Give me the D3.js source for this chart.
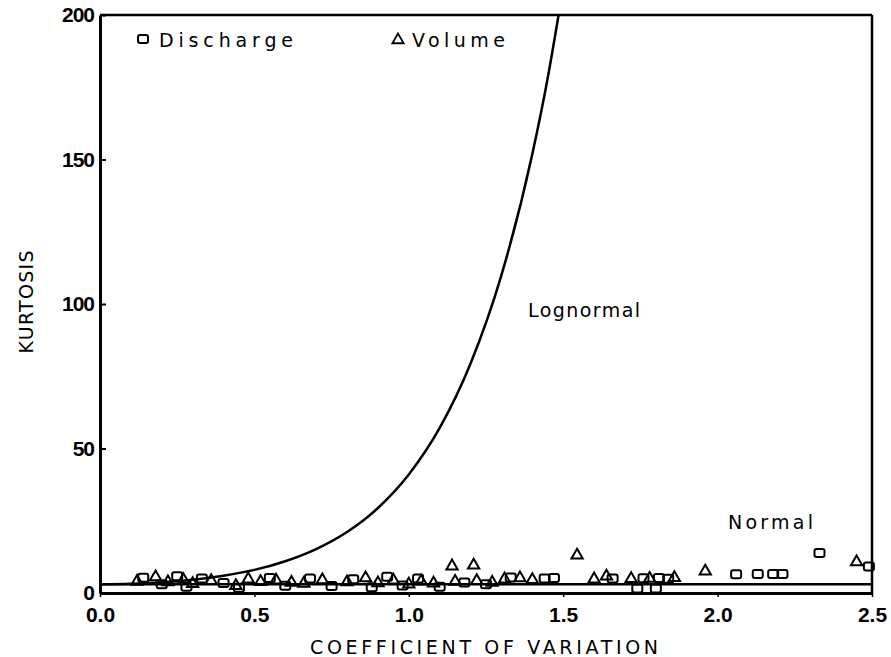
<!DOCTYPE html>
<html>
<head>
<meta charset="utf-8">
<script src="https://cdn.jsdelivr.net/npm/d3@7"></script>
<style>
  html, body { margin: 0; padding: 0; background: #fff; }
  svg { display: block; }
</style>
</head>
<body>
<svg id="chart" width="891" height="657"></svg>
<script>
// ---------------- data ----------------
const xTicks = [0.0, 0.5, 1.0, 1.5, 2.0, 2.5];
const xTickLabels = ["0.0", "0.5", "1.0", "1.5", "2.0", "2.5"];
const yTicks = [0, 50, 100, 150, 200];
const yTickLabels = ["0", "50", "100", "150", "200"];

// Lognormal theoretical curve [cv, kurtosis]
const lognormalCV = [0, 0.1, 0.2, 0.3, 0.4, 0.5, 0.6, 0.7, 0.8, 0.9, 1.0, 1.1, 1.2, 1.3, 1.4, 1.45, 1.485];
const lognormalK  = [3.0, 3.2, 3.7, 4.6, 6.0, 8.0, 11.0, 15.2, 21.1, 29.4, 41.0, 57.1, 79.4, 110.0, 151.9, 178.3, 200];

// Normal distribution line (kurtosis = 3)
const normalCV = [0, 2.5];
const normalK = [3, 3];

// Volume (triangles)
const volumeCV = [0.12, 0.18, 0.22, 0.27, 0.30, 0.36, 0.44, 0.48, 0.52, 0.57, 0.62, 0.66, 0.72, 0.80, 0.86, 0.90, 0.95, 1.00, 1.04, 1.08, 1.14, 1.15, 1.21, 1.22, 1.27, 1.31, 1.36, 1.40, 1.545, 1.60, 1.64, 1.72, 1.78, 1.86, 1.96, 2.45];
const volumeK  = [4.0, 5.5, 3.8, 4.6, 3.2, 4.2, 2.5, 4.8, 3.9, 4.4, 3.6, 3.3, 4.5, 3.8, 5.2, 3.5, 4.4, 3.0, 4.1, 3.4, 9.3, 4.0, 9.6, 4.2, 3.6, 4.8, 5.2, 4.6, 13.1, 4.8, 5.8, 4.9, 5.0, 5.3, 7.5, 10.7];

// Discharge (squares)
const dischargeCV = [0.14, 0.20, 0.25, 0.28, 0.33, 0.40, 0.45, 0.55, 0.60, 0.68, 0.75, 0.82, 0.88, 0.93, 0.98, 1.03, 1.10, 1.18, 1.25, 1.33, 1.44, 1.47, 1.66, 1.74, 1.76, 1.80, 1.81, 1.84, 2.06, 2.13, 2.18, 2.21, 2.33, 2.49];
const dischargeK  = [5.3, 3.0, 5.8, 2.2, 5.0, 3.5, 1.8, 5.2, 2.5, 5.0, 2.4, 4.8, 2.0, 5.6, 2.6, 5.0, 2.2, 3.6, 3.0, 5.4, 5.0, 5.2, 5.0, 1.6, 5.1, 1.6, 5.2, 4.9, 6.5, 6.6, 6.6, 6.6, 13.8, 9.2];

// ---------------- chart ----------------
const svg = d3.select("#chart");
const x = d3.scaleLinear().domain([0, 2.5]).range([100, 872]);
const y = d3.scaleLinear().domain([0, 200]).range([593, 15]);

const labelFont = "'DejaVu Sans', sans-serif";
const tickFont = "'Liberation Sans', Arial, sans-serif";

// frame: top and right
svg.append("line").attr("x1", x(0)).attr("x2", x(2.5)).attr("y1", y(200)).attr("y2", y(200))
  .attr("stroke", "#000").attr("stroke-width", 2.5);
svg.append("line").attr("x1", x(2.5)).attr("x2", x(2.5)).attr("y1", y(200)).attr("y2", y(0))
  .attr("stroke", "#000").attr("stroke-width", 2.5);

// y axis
const yAxis = d3.axisLeft(y).tickValues(yTicks).tickFormat((d, i) => yTickLabels[i])
  .tickSizeInner(-6).tickSizeOuter(0).tickPadding(6);
const gy = svg.append("g").attr("transform", `translate(${x(0)},0)`).call(yAxis);
gy.select(".domain").attr("stroke-width", 3);
gy.selectAll(".tick line").attr("stroke-width", 2);
gy.selectAll(".tick text").attr("font-family", tickFont).attr("font-weight", "bold")
  .attr("font-size", 21).attr("letter-spacing", -1).attr("fill", "#000");

// x axis
const xAxis = d3.axisBottom(x).tickValues(xTicks).tickFormat((d, i) => xTickLabels[i])
  .tickSizeInner(4).tickSizeOuter(0).tickPadding(10);
const gx = svg.append("g").attr("transform", `translate(0,${y(0)})`).call(xAxis);
gx.select(".domain").attr("stroke-width", 3);
gx.selectAll(".tick line").attr("stroke-width", 1.5);
gx.selectAll(".tick text").attr("font-family", tickFont).attr("font-weight", "bold")
  .attr("font-size", 21).attr("fill", "#000");

// normal line
const line = d3.line().x(d => x(d[0])).y(d => y(d[1]));
svg.append("path").datum(normalCV.map((c, i) => [c, normalK[i]]))
  .attr("d", line).attr("fill", "none").attr("stroke", "#000").attr("stroke-width", 2.5);

// lognormal curve
svg.append("path").datum(lognormalCV.map((c, i) => [c, lognormalK[i]]))
  .attr("d", d3.line().curve(d3.curveMonotoneX).x(d => x(d[0])).y(d => y(d[1])))
  .attr("fill", "none").attr("stroke", "#000").attr("stroke-width", 2.5);

// markers
const tri = d3.symbol().type(d3.symbolTriangle).size(55);
svg.append("g").selectAll("path").data(volumeCV.map((c, i) => [c, volumeK[i]])).join("path")
  .attr("d", tri).attr("transform", d => `translate(${x(d[0])},${y(d[1])})`)
  .attr("fill", "none").attr("stroke", "#000").attr("stroke-width", 2);

svg.append("g").selectAll("rect").data(dischargeCV.map((c, i) => [c, dischargeK[i]])).join("rect")
  .attr("x", d => x(d[0]) - 5).attr("y", d => y(d[1]) - 4).attr("width", 10).attr("height", 8)
  .attr("rx", 2).attr("fill", "none").attr("stroke", "#000").attr("stroke-width", 2);

// legend
svg.append("rect").attr("x", 138).attr("y", 35).attr("width", 10).attr("height", 8).attr("rx", 2)
  .attr("fill", "none").attr("stroke", "#000").attr("stroke-width", 2);
svg.append("text").attr("x", 159).attr("y", 47).text("Discharge")
  .attr("font-family", labelFont).attr("font-size", 19).attr("textLength", 134).attr("lengthAdjust", "spacing");
svg.append("path").attr("d", tri).attr("transform", "translate(398,40)")
  .attr("fill", "none").attr("stroke", "#000").attr("stroke-width", 1.8);
svg.append("text").attr("x", 412).attr("y", 47).text("Volume")
  .attr("font-family", labelFont).attr("font-size", 19).attr("textLength", 93).attr("lengthAdjust", "spacing");

// curve labels
svg.append("text").attr("x", 528).attr("y", 317).text("Lognormal")
  .attr("font-family", labelFont).attr("font-size", 19).attr("textLength", 112).attr("lengthAdjust", "spacing");
svg.append("text").attr("x", 728).attr("y", 529).text("Normal")
  .attr("font-family", labelFont).attr("font-size", 19).attr("textLength", 85).attr("lengthAdjust", "spacing");

// axis titles
svg.append("text").attr("x", 484).attr("y", 654).attr("text-anchor", "middle").text("COEFFICIENT OF VARIATION")
  .attr("font-family", labelFont).attr("font-size", 19).attr("textLength", 348).attr("lengthAdjust", "spacing");
svg.append("text").attr("transform", "translate(33,302) rotate(-90)").attr("text-anchor", "middle").text("KURTOSIS")
  .attr("font-family", labelFont).attr("font-size", 19).attr("textLength", 103).attr("lengthAdjust", "spacing");
</script>
</body>
</html>
